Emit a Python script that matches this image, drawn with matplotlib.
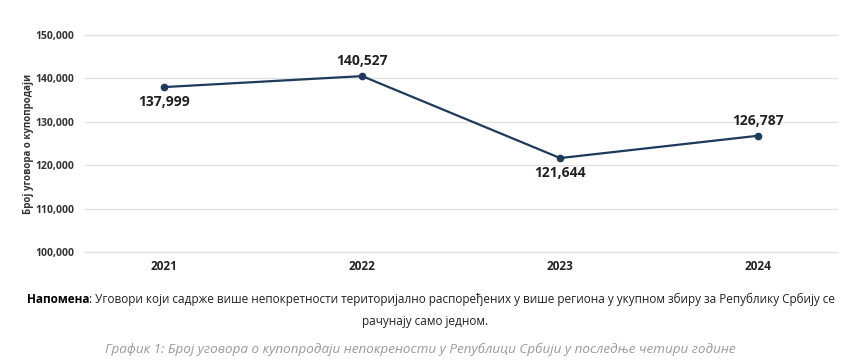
import matplotlib
matplotlib.use("Agg")
import matplotlib.pyplot as plt

years = ["2021", "2022", "2023", "2024"]
contracts = [137999, 140527, 121644, 126787]
label_pos = ["below", "above", "below", "above"]
y_ticks = [100000, 110000, 120000, 130000, 140000, 150000]

note_bold = "Напомена"
note_rest = ": Уговори који садрже више непокретности територијално распоређених у више региона у укупном збиру за Републику Србију се"
note_line2 = "рачунају само једном."
caption = "График 1: Број уговора о купопродаји непокрености у Републици Србији у последње четири године"

line_color = "#1d3a5c"
font_list = ["Open Sans", "DejaVu Sans"]

fig = plt.figure(figsize=(8.5, 3.6), dpi=100)
ax = fig.add_axes([0.1, 0.3, 0.885, 0.6028])

x = list(range(len(years)))
ax.plot(x, contracts, color=line_color, linewidth=1.6, marker="o", markersize=4.5, zorder=3)

for xi, v, pos in zip(x, contracts, label_pos):
    dy = -15 if pos == "below" else 15
    ax.annotate(f"{v:,}", (xi, v), xytext=(0, dy), textcoords="offset pixels",
                ha="center", va="center", fontsize=10, fontweight="bold",
                family=font_list, color="#222222")

ax.set_xlim(-0.4, 3.4)
ax.set_ylim(100000, 150000)
ax.set_yticks(y_ticks)
ax.set_yticklabels([f"{t:,}" for t in y_ticks], fontsize=7.5, fontweight="bold", family=font_list, color="#333333")
ax.set_xticks(x)
ax.set_xticklabels(years, fontsize=8.5, fontweight="bold", family=font_list, color="#222222")
ax.tick_params(axis="both", length=0)
ax.tick_params(axis="y", pad=8)
ax.tick_params(axis="x", pad=6)
ax.grid(axis="y", color="#e3e3e3", linewidth=1)
ax.set_axisbelow(True)
for s in ax.spines.values():
    s.set_visible(False)
for gl in ax.get_ygridlines():
    gl.set_clip_on(False)

fig.text(0.033, 0.6, "Број уговора о купопродаји", rotation=90, ha="center", va="center",
         fontsize=7, fontweight="bold", family=font_list, color="#333333")

# note line: bold word + rest, fitted to the width of the original
renderer = fig.canvas.get_renderer()
fs = 9.0
tb = fig.text(0, 0.169, note_bold, ha="left", va="center", fontsize=fs,
              fontweight="bold", family=font_list, color="black")
tr = fig.text(0, 0.169, note_rest, ha="left", va="center", fontsize=fs,
              family=font_list, color="#222222")
w = tb.get_window_extent(renderer).width + tr.get_window_extent(renderer).width
fs = fs * 812 / w
tb.set_fontsize(fs)
tr.set_fontsize(fs)
wb = tb.get_window_extent(renderer).width
wr = tr.get_window_extent(renderer).width
x0 = (431 - (wb + wr) / 2) / 850
tb.set_x(x0)
tr.set_x(x0 + wb / 850)

fig.text(0.5, 0.108, note_line2, ha="center", va="center", fontsize=fs,
         family=font_list, color="#222222")
tc = fig.text(420 / 850, 0.031, caption, ha="center", va="center", fontsize=9,
              style="italic", family=font_list, color="#9a9a9a")
tc.set_fontsize(9 * 630 / tc.get_window_extent(renderer).width)

fig.savefig("out.png", dpi=100)
